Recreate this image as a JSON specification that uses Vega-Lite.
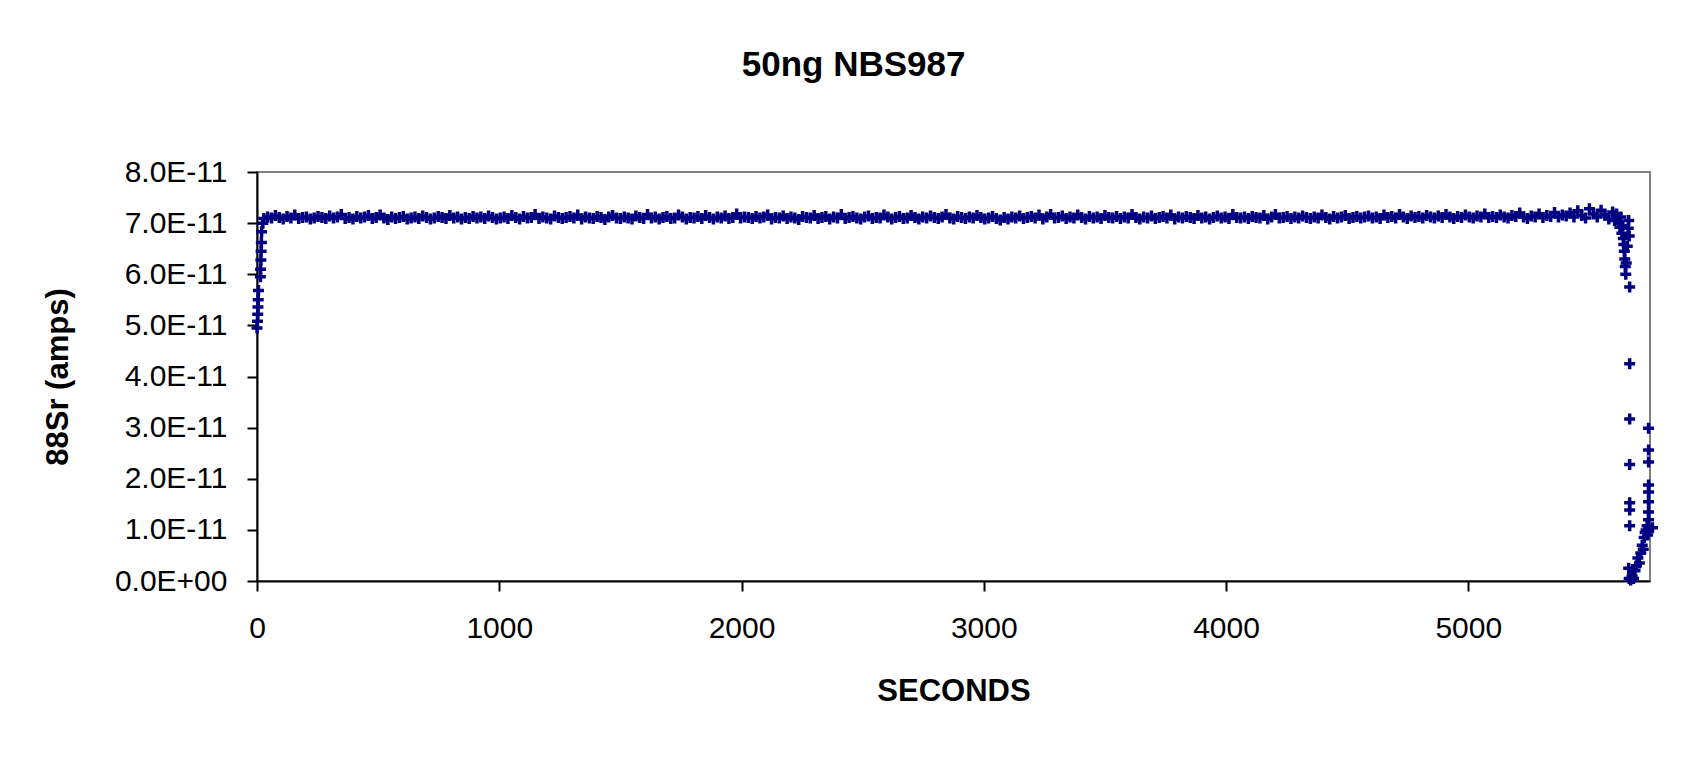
{
  "$schema": "https://vega.github.io/schema/vega-lite/v6.json",
  "width": 1393,
  "height": 409,
  "autosize": {"type": "none"},
  "padding": {"left": 257, "top": 172, "right": 42, "bottom": 180},
  "background": "white",
  "title": {
    "text": "50ng NBS987",
    "font": "Liberation Sans",
    "fontSize": 35,
    "fontWeight": "bold",
    "color": "black",
    "anchor": "middle",
    "frame": "bounds",
    "baseline": "alphabetic",
    "offset": 46
  },
  "config": {
    "view": {"stroke": "#808080", "strokeWidth": 2},
    "axis": {
      "domainColor": "black",
      "domainWidth": 2,
      "tickColor": "black",
      "tickWidth": 2,
      "tickSize": 10,
      "grid": false,
      "labelFlush": false,
      "labelFont": "Liberation Sans",
      "labelFontSize": 30,
      "labelColor": "black",
      "titleFont": "Liberation Sans",
      "titleFontSize": 31,
      "titleFontWeight": "bold",
      "titleColor": "black"
    }
  },
  "data": {"values": [
    {"t":0,"a":4.95e-11},{"t":2,"a":5.08e-11},{"t":3,"a":5.22e-11},{"t":4,"a":5.36e-11},{"t":5,"a":5.5e-11},{"t":6,"a":5.68e-11},
    {"t":14,"a":5.95e-11},{"t":15,"a":6.1e-11},{"t":16,"a":6.28e-11},{"t":17,"a":6.45e-11},{"t":18,"a":6.62e-11},{"t":19,"a":6.83e-11},
    {"t":24,"a":7.0e-11},
    {"t":28,"a":7.09e-11},{"t":44,"a":7.12e-11},{"t":60,"a":7.10e-11},{"t":76,"a":7.15e-11},{"t":92,"a":7.11e-11},{"t":108,"a":7.08e-11},{"t":124,"a":7.13e-11},{"t":140,"a":7.10e-11},{"t":156,"a":7.16e-11},{"t":172,"a":7.09e-11},{"t":188,"a":7.11e-11},{"t":204,"a":7.12e-11},{"t":220,"a":7.08e-11},{"t":236,"a":7.10e-11},{"t":252,"a":7.13e-11},{"t":268,"a":7.11e-11},{"t":284,"a":7.09e-11},{"t":300,"a":7.14e-11},{"t":316,"a":7.10e-11},{"t":332,"a":7.12e-11},{"t":348,"a":7.17e-11},{"t":364,"a":7.09e-11},{"t":380,"a":7.11e-11},{"t":396,"a":7.08e-11},{"t":412,"a":7.13e-11},{"t":428,"a":7.10e-11},{"t":444,"a":7.12e-11},{"t":460,"a":7.15e-11},{"t":476,"a":7.09e-11},{"t":492,"a":7.11e-11},{"t":508,"a":7.16e-11},{"t":524,"a":7.10e-11},{"t":540,"a":7.07e-11},{"t":556,"a":7.12e-11},{"t":572,"a":7.09e-11},{"t":588,"a":7.11e-11},{"t":604,"a":7.13e-11},{"t":620,"a":7.08e-11},{"t":636,"a":7.10e-11},{"t":652,"a":7.12e-11},{"t":668,"a":7.09e-11},{"t":684,"a":7.14e-11},{"t":700,"a":7.11e-11},{"t":716,"a":7.08e-11},{"t":732,"a":7.10e-11},{"t":748,"a":7.13e-11},{"t":764,"a":7.11e-11},{"t":780,"a":7.09e-11},{"t":796,"a":7.15e-11},{"t":812,"a":7.10e-11},{"t":828,"a":7.12e-11},{"t":844,"a":7.08e-11},{"t":860,"a":7.11e-11},{"t":876,"a":7.09e-11},{"t":892,"a":7.13e-11},{"t":908,"a":7.10e-11},{"t":924,"a":7.12e-11},{"t":940,"a":7.09e-11},{"t":956,"a":7.14e-11},{"t":972,"a":7.11e-11},{"t":988,"a":7.08e-11},
    {"t":1004,"a":7.10e-11},{"t":1020,"a":7.12e-11},{"t":1036,"a":7.09e-11},{"t":1052,"a":7.15e-11},{"t":1068,"a":7.11e-11},{"t":1084,"a":7.08e-11},{"t":1100,"a":7.13e-11},{"t":1116,"a":7.10e-11},{"t":1132,"a":7.11e-11},{"t":1148,"a":7.17e-11},{"t":1164,"a":7.09e-11},{"t":1180,"a":7.12e-11},{"t":1196,"a":7.10e-11},{"t":1212,"a":7.08e-11},{"t":1228,"a":7.14e-11},{"t":1244,"a":7.11e-11},
    {"t":1260,"a":7.09e-11},{"t":1276,"a":7.11e-11},{"t":1292,"a":7.13e-11},{"t":1308,"a":7.10e-11},{"t":1324,"a":7.16e-11},{"t":1340,"a":7.08e-11},{"t":1356,"a":7.12e-11},{"t":1372,"a":7.10e-11},{"t":1388,"a":7.09e-11},{"t":1404,"a":7.13e-11},{"t":1420,"a":7.11e-11},{"t":1436,"a":7.07e-11},{"t":1452,"a":7.12e-11},{"t":1468,"a":7.15e-11},{"t":1484,"a":7.10e-11},{"t":1500,"a":7.09e-11},
    {"t":1516,"a":7.12e-11},{"t":1532,"a":7.10e-11},{"t":1548,"a":7.08e-11},{"t":1564,"a":7.14e-11},{"t":1580,"a":7.11e-11},{"t":1596,"a":7.09e-11},{"t":1612,"a":7.17e-11},{"t":1628,"a":7.10e-11},{"t":1644,"a":7.12e-11},{"t":1660,"a":7.08e-11},{"t":1676,"a":7.11e-11},{"t":1692,"a":7.13e-11},{"t":1708,"a":7.09e-11},{"t":1724,"a":7.10e-11},{"t":1740,"a":7.16e-11},{"t":1756,"a":7.12e-11},
    {"t":1772,"a":7.08e-11},{"t":1788,"a":7.11e-11},{"t":1804,"a":7.10e-11},{"t":1820,"a":7.13e-11},{"t":1836,"a":7.09e-11},{"t":1852,"a":7.15e-11},{"t":1868,"a":7.11e-11},{"t":1884,"a":7.08e-11},{"t":1900,"a":7.12e-11},{"t":1916,"a":7.10e-11},{"t":1932,"a":7.14e-11},{"t":1948,"a":7.09e-11},{"t":1964,"a":7.11e-11},{"t":1980,"a":7.18e-11},{"t":1996,"a":7.10e-11},{"t":2012,"a":7.12e-11},
    {"t":2028,"a":7.11e-11},{"t":2044,"a":7.09e-11},{"t":2060,"a":7.13e-11},{"t":2076,"a":7.10e-11},{"t":2092,"a":7.12e-11},{"t":2108,"a":7.16e-11},{"t":2124,"a":7.08e-11},{"t":2140,"a":7.11e-11},{"t":2156,"a":7.10e-11},{"t":2172,"a":7.14e-11},{"t":2188,"a":7.09e-11},{"t":2204,"a":7.12e-11},{"t":2220,"a":7.10e-11},{"t":2236,"a":7.07e-11},{"t":2252,"a":7.13e-11},{"t":2268,"a":7.11e-11},
    {"t":2284,"a":7.10e-11},{"t":2300,"a":7.15e-11},{"t":2316,"a":7.09e-11},{"t":2332,"a":7.11e-11},{"t":2348,"a":7.13e-11},{"t":2364,"a":7.08e-11},{"t":2380,"a":7.12e-11},{"t":2396,"a":7.10e-11},{"t":2412,"a":7.17e-11},{"t":2428,"a":7.09e-11},{"t":2444,"a":7.11e-11},{"t":2460,"a":7.13e-11},{"t":2476,"a":7.10e-11},{"t":2492,"a":7.08e-11},{"t":2508,"a":7.12e-11},{"t":2524,"a":7.14e-11},
    {"t":2540,"a":7.09e-11},{"t":2556,"a":7.11e-11},{"t":2572,"a":7.10e-11},{"t":2588,"a":7.16e-11},{"t":2604,"a":7.12e-11},{"t":2620,"a":7.08e-11},{"t":2636,"a":7.11e-11},{"t":2652,"a":7.13e-11},{"t":2668,"a":7.09e-11},{"t":2684,"a":7.10e-11},{"t":2700,"a":7.15e-11},{"t":2716,"a":7.11e-11},{"t":2732,"a":7.08e-11},{"t":2748,"a":7.12e-11},{"t":2764,"a":7.10e-11},{"t":2780,"a":7.14e-11},
    {"t":2796,"a":7.11e-11},{"t":2812,"a":7.09e-11},{"t":2828,"a":7.12e-11},{"t":2844,"a":7.17e-11},{"t":2860,"a":7.10e-11},{"t":2876,"a":7.08e-11},{"t":2892,"a":7.13e-11},{"t":2908,"a":7.11e-11},{"t":2924,"a":7.09e-11},{"t":2940,"a":7.12e-11},{"t":2956,"a":7.10e-11},{"t":2972,"a":7.15e-11},{"t":2988,"a":7.11e-11},{"t":3004,"a":7.08e-11},{"t":3020,"a":7.10e-11},{"t":3036,"a":7.13e-11},
    {"t":3052,"a":7.09e-11},{"t":3068,"a":7.06e-11},{"t":3084,"a":7.11e-11},{"t":3100,"a":7.08e-11},{"t":3116,"a":7.12e-11},{"t":3132,"a":7.10e-11},{"t":3148,"a":7.14e-11},{"t":3164,"a":7.09e-11},{"t":3180,"a":7.11e-11},{"t":3196,"a":7.13e-11},{"t":3212,"a":7.10e-11},{"t":3228,"a":7.16e-11},{"t":3244,"a":7.08e-11},{"t":3260,"a":7.12e-11},{"t":3276,"a":7.17e-11},{"t":3292,"a":7.10e-11},
    {"t":3308,"a":7.11e-11},{"t":3324,"a":7.14e-11},{"t":3340,"a":7.09e-11},{"t":3356,"a":7.12e-11},{"t":3372,"a":7.10e-11},{"t":3388,"a":7.16e-11},{"t":3404,"a":7.11e-11},{"t":3420,"a":7.08e-11},{"t":3436,"a":7.13e-11},{"t":3452,"a":7.10e-11},{"t":3468,"a":7.12e-11},{"t":3484,"a":7.09e-11},{"t":3500,"a":7.15e-11},{"t":3516,"a":7.11e-11},{"t":3532,"a":7.10e-11},{"t":3548,"a":7.13e-11},
    {"t":3564,"a":7.09e-11},{"t":3580,"a":7.12e-11},{"t":3596,"a":7.10e-11},{"t":3612,"a":7.17e-11},{"t":3628,"a":7.11e-11},{"t":3644,"a":7.08e-11},{"t":3660,"a":7.12e-11},{"t":3676,"a":7.10e-11},{"t":3692,"a":7.14e-11},{"t":3708,"a":7.09e-11},{"t":3724,"a":7.11e-11},{"t":3740,"a":7.13e-11},{"t":3756,"a":7.10e-11},{"t":3772,"a":7.16e-11},{"t":3788,"a":7.08e-11},{"t":3804,"a":7.12e-11},
    {"t":3820,"a":7.10e-11},{"t":3836,"a":7.13e-11},{"t":3852,"a":7.11e-11},{"t":3868,"a":7.09e-11},{"t":3884,"a":7.15e-11},{"t":3900,"a":7.10e-11},{"t":3916,"a":7.12e-11},{"t":3932,"a":7.08e-11},{"t":3948,"a":7.11e-11},{"t":3964,"a":7.14e-11},{"t":3980,"a":7.10e-11},{"t":3996,"a":7.12e-11},{"t":4012,"a":7.09e-11},{"t":4028,"a":7.17e-11},{"t":4044,"a":7.11e-11},{"t":4060,"a":7.10e-11},
    {"t":4076,"a":7.12e-11},{"t":4092,"a":7.09e-11},{"t":4108,"a":7.13e-11},{"t":4124,"a":7.11e-11},{"t":4140,"a":7.10e-11},{"t":4156,"a":7.15e-11},{"t":4172,"a":7.08e-11},{"t":4188,"a":7.12e-11},{"t":4204,"a":7.17e-11},{"t":4220,"a":7.10e-11},{"t":4236,"a":7.11e-11},{"t":4252,"a":7.13e-11},{"t":4268,"a":7.09e-11},{"t":4284,"a":7.12e-11},{"t":4300,"a":7.10e-11},{"t":4316,"a":7.14e-11},
    {"t":4332,"a":7.11e-11},{"t":4348,"a":7.09e-11},{"t":4364,"a":7.12e-11},{"t":4380,"a":7.10e-11},{"t":4396,"a":7.16e-11},{"t":4412,"a":7.11e-11},{"t":4428,"a":7.08e-11},{"t":4444,"a":7.13e-11},{"t":4460,"a":7.10e-11},{"t":4476,"a":7.12e-11},{"t":4492,"a":7.15e-11},{"t":4508,"a":7.09e-11},{"t":4524,"a":7.11e-11},{"t":4540,"a":7.13e-11},{"t":4556,"a":7.10e-11},{"t":4572,"a":7.12e-11},
    {"t":4588,"a":7.14e-11},{"t":4604,"a":7.10e-11},{"t":4620,"a":7.12e-11},{"t":4636,"a":7.09e-11},{"t":4652,"a":7.16e-11},{"t":4668,"a":7.11e-11},{"t":4684,"a":7.13e-11},{"t":4700,"a":7.10e-11},{"t":4716,"a":7.17e-11},{"t":4732,"a":7.12e-11},{"t":4748,"a":7.09e-11},{"t":4764,"a":7.14e-11},{"t":4780,"a":7.11e-11},{"t":4796,"a":7.13e-11},{"t":4812,"a":7.10e-11},{"t":4828,"a":7.15e-11},
    {"t":4844,"a":7.12e-11},{"t":4860,"a":7.10e-11},{"t":4876,"a":7.14e-11},{"t":4892,"a":7.11e-11},{"t":4908,"a":7.17e-11},{"t":4924,"a":7.12e-11},{"t":4940,"a":7.09e-11},{"t":4956,"a":7.13e-11},{"t":4972,"a":7.11e-11},{"t":4988,"a":7.16e-11},{"t":5004,"a":7.12e-11},{"t":5020,"a":7.10e-11},{"t":5036,"a":7.14e-11},{"t":5052,"a":7.12e-11},{"t":5068,"a":7.18e-11},{"t":5084,"a":7.11e-11},
    {"t":5100,"a":7.13e-11},{"t":5116,"a":7.11e-11},{"t":5132,"a":7.16e-11},{"t":5148,"a":7.12e-11},{"t":5164,"a":7.10e-11},{"t":5180,"a":7.15e-11},{"t":5196,"a":7.13e-11},{"t":5212,"a":7.20e-11},{"t":5228,"a":7.12e-11},{"t":5244,"a":7.09e-11},{"t":5260,"a":7.14e-11},{"t":5276,"a":7.12e-11},{"t":5292,"a":7.18e-11},{"t":5308,"a":7.11e-11},{"t":5324,"a":7.15e-11},{"t":5340,"a":7.13e-11},
    {"t":5356,"a":7.21e-11},{"t":5372,"a":7.12e-11},{"t":5388,"a":7.16e-11},
    {"t":5404,"a":7.14e-11},{"t":5420,"a":7.20e-11},{"t":5436,"a":7.12e-11},{"t":5452,"a":7.24e-11},{"t":5468,"a":7.15e-11},{"t":5484,"a":7.10e-11},{"t":5500,"a":7.28e-11},{"t":5516,"a":7.18e-11},{"t":5532,"a":7.12e-11},{"t":5548,"a":7.25e-11},{"t":5564,"a":7.16e-11},{"t":5580,"a":7.08e-11},{"t":5596,"a":7.22e-11},{"t":5604,"a":7.05e-11},{"t":5612,"a":7.18e-11},{"t":5620,"a":7.0e-11},{"t":5626,"a":6.92e-11},{"t":5630,"a":7.12e-11},{"t":5634,"a":6.8e-11},{"t":5638,"a":6.95e-11},{"t":5640,"a":6.7e-11},{"t":5642,"a":6.58e-11},{"t":5644,"a":6.45e-11},{"t":5646,"a":6.3e-11},{"t":5648,"a":6.15e-11},{"t":5650,"a":6.0e-11},{"t":5652,"a":6.22e-11},{"t":5656,"a":6.55e-11},{"t":5660,"a":6.9e-11},{"t":5662,"a":7.05e-11},{"t":5664,"a":6.75e-11},
    {"t":5666,"a":5.75e-11},{"t":5666,"a":4.25e-11},{"t":5666,"a":3.17e-11},{"t":5666,"a":2.28e-11},{"t":5666,"a":1.53e-11},{"t":5666,"a":1.39e-11},{"t":5666,"a":1.08e-11},
    {"t":5662,"a":0.25e-11},{"t":5664,"a":0.05e-11},{"t":5670,"a":0.02e-11},{"t":5676,"a":0.1e-11},{"t":5682,"a":0.05e-11},{"t":5688,"a":0.2e-11},{"t":5694,"a":0.3e-11},{"t":5700,"a":0.45e-11},{"t":5706,"a":0.35e-11},{"t":5712,"a":0.55e-11},{"t":5718,"a":0.7e-11},{"t":5722,"a":0.62e-11},{"t":5726,"a":0.85e-11},{"t":5730,"a":0.95e-11},{"t":5734,"a":1.0e-11},{"t":5738,"a":1.08e-11},{"t":5740,"a":0.9e-11},
    {"t":5744,"a":2.99e-11},{"t":5744,"a":2.56e-11},{"t":5744,"a":2.33e-11},{"t":5744,"a":1.88e-11},{"t":5744,"a":1.74e-11},{"t":5744,"a":1.55e-11},{"t":5744,"a":1.35e-11},{"t":5744,"a":1.2e-11},{"t":5760,"a":1.04e-11}
  ]},
  "mark": {
    "type": "point",
    "shape": "M-1,0L1,0M0,-1L0,1",
    "filled": false,
    "color": "#000080",
    "strokeWidth": 3.5,
    "size": 121,
    "opacity": 1
  },
  "encoding": {
    "x": {
      "field": "t",
      "type": "quantitative",
      "scale": {"domain": [0, 5750], "nice": false, "zero": false},
      "axis": {
        "values": [0, 1000, 2000, 3000, 4000, 5000],
        "format": "d",
        "title": "SECONDS",
        "labelPadding": 22,
        "titlePadding": 33
      }
    },
    "y": {
      "field": "a",
      "type": "quantitative",
      "scale": {"domain": [0, 8e-11], "nice": false},
      "axis": {
        "values": [0, 1e-11, 2e-11, 3e-11, 4e-11, 5e-11, 6e-11, 7e-11, 8e-11],
        "labelExpr": "datum.value == 0 ? '0.0E+00' : replace(format(datum.value, '.1e'), 'e', 'E')",
        "title": "88Sr (amps)",
        "labelPadding": 20,
        "titlePadding": 40
      }
    }
  }
}
